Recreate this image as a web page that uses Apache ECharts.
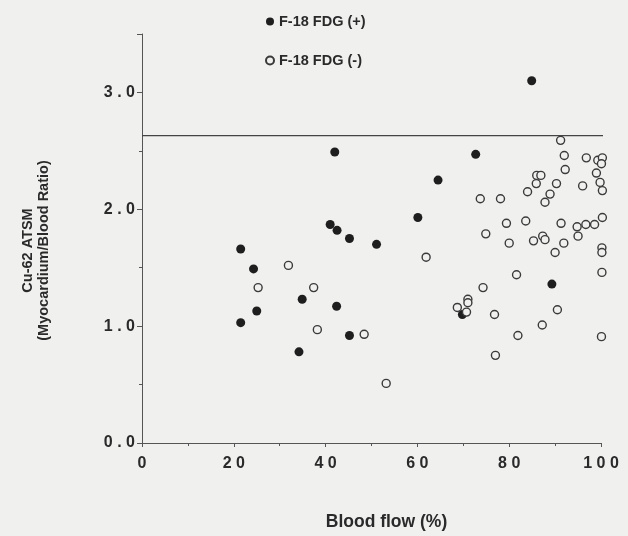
<!DOCTYPE html>
<html>
<head>
<meta charset="utf-8">
<script src="https://cdn.jsdelivr.net/npm/echarts@6/dist/echarts.min.js"></script>
<style>
  html, body { margin: 0; padding: 0; background: #f0f0ef; }
  #chart { width: 628px; height: 536px; }
</style>
</head>
<body>
<div id="chart"></div>
<script>
// FDG positive (filled dots): [blood flow %, ATSM ratio]
var fdgPos = [
    [21.5, 1.66], [24.3, 1.49], [25.0, 1.13], [21.5, 1.03], [34.2, 0.78],
    [34.9, 1.23], [41.0, 1.87], [42.5, 1.82], [42.0, 2.49], [42.4, 1.17],
    [45.2, 1.75], [45.2, 0.92], [51.1, 1.70], [60.1, 1.93], [64.5, 2.25],
    [72.7, 2.47], [69.8, 1.10], [84.9, 3.10], [89.3, 1.36]
];
// FDG negative (open dots)
var fdgNeg = [
    [31.9, 1.52], [25.3, 1.33], [37.4, 1.33], [38.2, 0.97], [48.4, 0.93],
    [53.2, 0.51], [61.9, 1.59],
    [91.2, 2.59], [92.0, 2.46], [96.8, 2.44], [99.3, 2.42], [100.3, 2.44],
    [100.1, 2.39], [92.2, 2.34], [99.0, 2.31], [86.0, 2.29], [86.9, 2.29],
    [85.9, 2.22], [90.3, 2.22], [96.0, 2.20], [99.8, 2.23], [100.3, 2.16],
    [84.0, 2.15], [88.9, 2.13], [87.8, 2.06], [73.7, 2.09], [78.1, 2.09],
    [79.4, 1.88], [83.6, 1.90], [91.3, 1.88], [94.8, 1.85], [96.7, 1.87],
    [98.6, 1.87], [100.3, 1.93], [74.9, 1.79], [80.0, 1.71], [85.3, 1.73],
    [87.3, 1.77], [87.8, 1.74], [91.9, 1.71], [95.0, 1.77], [90.0, 1.63],
    [100.2, 1.67], [100.2, 1.63], [81.6, 1.44], [100.2, 1.46],
    [74.3, 1.33], [71.0, 1.23], [71.0, 1.20], [68.7, 1.16], [70.7, 1.12],
    [76.8, 1.10], [90.5, 1.14], [87.2, 1.01], [81.9, 0.92], [100.1, 0.91],
    [77.0, 0.75]
];
// horizontal reference line
var refLine = [[0, 2.63], [102.3, 2.63]];

var seriesNames = ['F-18 FDG (+)', 'F-18 FDG (-)'];

var bg = '#f0f0ef';
var ink = '#2a2a2a';
var font = 'Liberation Sans';

var myChart = echarts.init(document.getElementById('chart'), null, {renderer: 'canvas'});
var option = {
    backgroundColor: bg,
    animation: false,
    textStyle: {fontFamily: font},
    legend: {
        orient: 'vertical',
        left: 260,
        top: 9,
        itemGap: 24,
        itemWidth: 8,
        itemHeight: 8,
        data: seriesNames,
        textStyle: {fontFamily: font, fontWeight: 'bold', fontSize: 14.5, color: ink}
    },
    grid: {left: 142, right: 27, top: 34, bottom: 79, containLabel: false},
    xAxis: {
        type: 'value',
        min: 0,
        max: 100,
        interval: 20,
        name: 'Blood flow (%)',
        nameLocation: 'middle',
        nameGap: 70,
        nameTextStyle: {fontFamily: font, fontWeight: 'bold', fontSize: 17.5, color: ink, padding: [0, 0, 0, 30]},
        splitLine: {show: false},
        axisLine: {lineStyle: {color: '#555', width: 1}},
        axisTick: {length: 4, lineStyle: {color: '#555'}},
        minorTick: {show: true, splitNumber: 2, length: 3, lineStyle: {color: '#555'}},
        axisLabel: {
            margin: 13,
            fontFamily: font, fontWeight: 'bold', fontSize: 16, color: ink,
            formatter: function (v) { return String(v).split('').join(' '); }
        }
    },
    yAxis: {
        type: 'value',
        min: 0,
        max: 3.5,
        interval: 1,
        name: 'Cu-62 ATSM\n(Myocardium/Blood Ratio)',
        nameLocation: 'middle',
        nameGap: 90,
        nameTextStyle: {fontFamily: font, fontWeight: 'bold', fontSize: 14.5, color: ink, lineHeight: 16, padding: [0, 24, 0, 0]},
        splitLine: {show: false},
        axisLine: {lineStyle: {color: '#555', width: 1}},
        axisTick: {length: 5, lineStyle: {color: '#555'}},
        minorTick: {show: true, splitNumber: 2, length: 3, lineStyle: {color: '#555'}},
        axisLabel: {
            margin: 7,
            showMaxLabel: false,
            fontFamily: font, fontWeight: 'bold', fontSize: 16, color: ink,
            formatter: function (v) { return v.toFixed(1).split('').join(' '); }
        }
    },
    series: [{
        name: seriesNames[0],
        type: 'scatter',
        data: fdgPos,
        symbol: 'circle',
        symbolSize: 9,
        clip: false,
        itemStyle: {color: '#1e1e1e', opacity: 1}
    }, {
        name: seriesNames[1],
        type: 'scatter',
        data: fdgNeg,
        symbol: 'circle',
        symbolSize: 8,
        clip: false,
        itemStyle: {color: bg, borderColor: '#3a3a3a', borderWidth: 1.4, opacity: 1}
    }, {
        type: 'line',
        data: refLine,
        symbol: 'none',
        clip: false,
        silent: true,
        lineStyle: {color: '#444', width: 1.2}
    }]
};
myChart.setOption(option);
</script>
</body>
</html>
